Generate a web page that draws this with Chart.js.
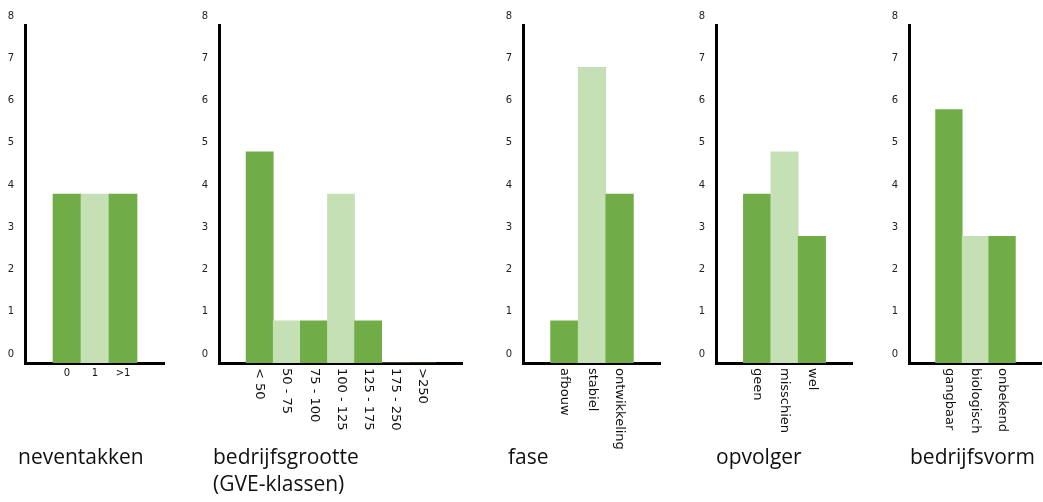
<!DOCTYPE html>
<html>
<head>
<meta charset="utf-8">
<script src="https://cdn.jsdelivr.net/npm/chart.js@4/dist/chart.umd.min.js"></script>
<style>
  body { margin: 0; background: #fff; }
  #wrap { position: relative; width: 1043px; height: 502px; overflow: hidden; background: #fff; }
  canvas { position: absolute; top: 0; }
  .titel { position: absolute; top: 443px; font-family: "Open Sans", sans-serif; font-size: 21px; line-height: 27px; color: #111; white-space: nowrap; }
</style>
</head>
<body>
<div id="wrap"></div>
<script>
// gegevens per grafiek
const nevenLabels = ['0', '1', '>1'];
const nevenValues = [4, 4, 4];

const grootteLabels = ['< 50', '50 - 75', '75 - 100', '100 - 125', '125 - 175', '175 - 250', '>250'];
const grootteValues = [5, 1, 1, 4, 1, 0, 0];

const faseLabels = ['afbouw', 'stabiel', 'ontwikkeling'];
const faseValues = [1, 7, 4];

const opvolgerLabels = ['geen', 'misschien', 'wel'];
const opvolgerValues = [4, 5, 3];

const vormLabels = ['gangbaar', 'biologisch', 'onbekend'];
const vormValues = [6, 3, 3];

const yTicks = [0, 1, 2, 3, 4, 5, 6, 7, 8];

const donker = '#70AD47';
const licht = '#C5E0B4';

// opmaak van de vijf panelen
const panelen = [
    { labels: nevenLabels, values: nevenValues, left: 0, axisX: 25, right: 165, rotate: false, titel: 'neventakken', titelX: 18 },
    { labels: grootteLabels, values: grootteValues, left: 190, axisX: 219, right: 463, rotate: true, titel: 'bedrijfsgrootte<br>(GVE-klassen)', titelX: 213 },
    { labels: faseLabels, values: faseValues, left: 490, axisX: 523, right: 661, rotate: true, titel: 'fase', titelX: 508 },
    { labels: opvolgerLabels, values: opvolgerValues, left: 690, axisX: 716, right: 853, rotate: true, titel: 'opvolger', titelX: 716 },
    { labels: vormLabels, values: vormValues, left: 880, axisX: 909, right: 1042, rotate: true, titel: 'bedrijfsvorm', titelX: 910 }
];

const hoogte = 460;
const asOnder = 363;

// x-labels zelf tekenen (gedraaid, leesrichting van boven naar onder)
const labelPlugin = {
    id: 'xlabels',
    afterDraw(chart, args, opts) {
        const ctx = chart.ctx;
        const xs = chart.scales.x;
        ctx.save();
        ctx.fillStyle = '#111';
        chart.data.labels.forEach(function(lab, i) {
            if (!lab) return;
            const x = xs.getPixelForValue(i);
            if (opts.rotate) {
                ctx.font = '13px "DejaVu Sans", sans-serif';
                ctx.translate(x, asOnder + 5);
                ctx.rotate(Math.PI / 2);
                ctx.textAlign = 'left';
                ctx.textBaseline = 'middle';
                ctx.fillText(lab, 0, 0);
                ctx.setTransform(1, 0, 0, 1, 0, 0);
            } else {
                ctx.font = '10px "DejaVu Sans", sans-serif';
                ctx.textAlign = 'center';
                ctx.textBaseline = 'middle';
                ctx.fillText(lab, x, asOnder + 10);
            }
        });
        ctx.restore();
    }
};

const wrap = document.getElementById('wrap');

panelen.forEach(function(p) {
    const canvas = document.createElement('canvas');
    canvas.width = p.right - p.left;
    canvas.height = hoogte;
    canvas.style.left = p.left + 'px';
    canvas.style.width = canvas.width + 'px';
    canvas.style.height = hoogte + 'px';
    wrap.appendChild(canvas);

    const titel = document.createElement('div');
    titel.className = 'titel';
    titel.style.left = p.titelX + 'px';
    titel.innerHTML = p.titel;
    wrap.appendChild(titel);

    // lege categorie aan beide kanten voor de witruimte
    const labels = [''].concat(p.labels, ['']);
    const data = [null].concat(p.values, [null]);

    new Chart(canvas.getContext('2d'), {
        type: 'bar',
        data: {
            labels: labels,
            datasets: [{
                data: data,
                backgroundColor: function(c) { return c.dataIndex % 2 === 1 ? donker : licht; },
                borderWidth: 0,
                barPercentage: 1,
                categoryPercentage: 1
            }]
        },
        options: {
            responsive: false,
            animation: false,
            events: [],
            layout: { padding: { top: 25, left: 0, right: 0, bottom: 0 } },
            plugins: {
                legend: { display: false },
                tooltip: { enabled: false },
                xlabels: { rotate: p.rotate }
            },
            scales: {
                x: {
                    z: 1,
                    grid: { display: false },
                    border: { color: '#000', width: 3 },
                    ticks: { display: false },
                    afterFit: function(s) { s.height = hoogte - asOnder; }
                },
                y: {
                    z: 1,
                    min: yTicks[0],
                    max: yTicks[yTicks.length - 1],
                    grid: { display: false },
                    border: { color: '#000', width: 3 },
                    ticks: {
                        stepSize: 1,
                        padding: 3,
                        labelOffset: -9,
                        color: '#222',
                        font: { family: '"DejaVu Sans", sans-serif', size: 10 }
                    },
                    afterFit: function(s) { s.width = p.axisX - p.left; }
                }
            }
        },
        plugins: [labelPlugin]
    });
});
</script>
</body>
</html>
